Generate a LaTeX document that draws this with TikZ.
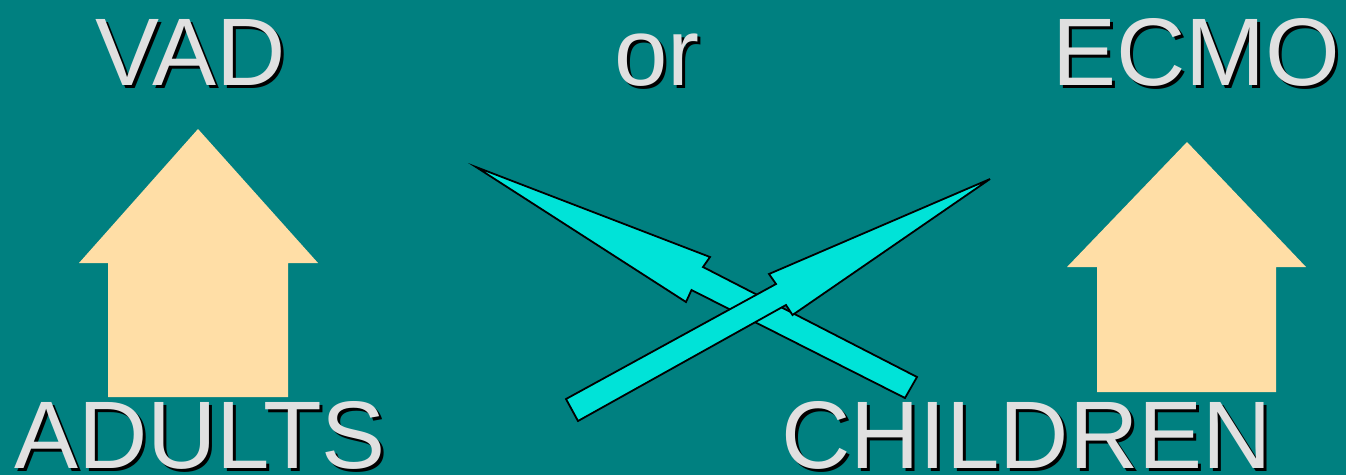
\documentclass[tikz,border=0pt]{standalone}
\usepackage{fontspec}
\setmainfont{Liberation Sans}
\definecolor{bgteal}{RGB}{0,128,128}
\definecolor{housefill}{RGB}{255,222,166}
\definecolor{arrowfill}{RGB}{0,227,216}
\definecolor{txtgrey}{RGB}{224,224,224}
\tikzset{
  house/.style={fill=housefill, draw=none},
  bigarrow/.style={fill=arrowfill, draw=black, line width=1.8pt, line join=miter},
  label/.style={inner sep=0pt, anchor=base west, text=txtgrey, font=\fontsize{96}{96}\selectfont},
  shadow/.style={inner sep=0pt, anchor=base west, text=black, font=\fontsize{96}{96}\selectfont},
}
\begin{document}
\begin{tikzpicture}[x=1pt,y=-1pt]
\fill[bgteal] (0,0) rectangle (1346,475);
\useasboundingbox (0,0) rectangle (1346,475);
% houses
\fill[house] (198,129) -- (318,263) -- (288,263) -- (288,397) -- (108,397) -- (108,263) -- (79,263) -- cycle;
\fill[house] (1187,142) -- (1306,267) -- (1276,267) -- (1276,392) -- (1097,392) -- (1097,267) -- (1067,267) -- cycle;
% arrows
\draw[bigarrow] (476,167) -- (710,257) -- (703,267) -- (917,377) -- (905,398) -- (691.5,290) -- (686,302) -- cycle;
\draw[bigarrow] (990,179) -- (769,274) -- (776,284) -- (566,399) -- (578,421) -- (786,305) -- (792.5,315) -- cycle;
% texts
\node[shadow] (vads) at (98,88) {VAD};
\node[label] (vad) at (95,85) {VAD};
\node[shadow] (ors) at (617,88) {or};
\node[label] (or) at (614,85) {or};
\node[shadow] (ecmos) at (1055,88) {ECMO};
\node[label] (ecmo) at (1052,85) {ECMO};
\node[shadow] (adultss) at (17,471) {ADULTS};
\node[label] (adults) at (14,468) {ADULTS};
\node[shadow] (childrens) at (784,471) {CHILDREN};
\node[label] (children) at (781,468) {CHILDREN};
\end{tikzpicture}
\end{document}
